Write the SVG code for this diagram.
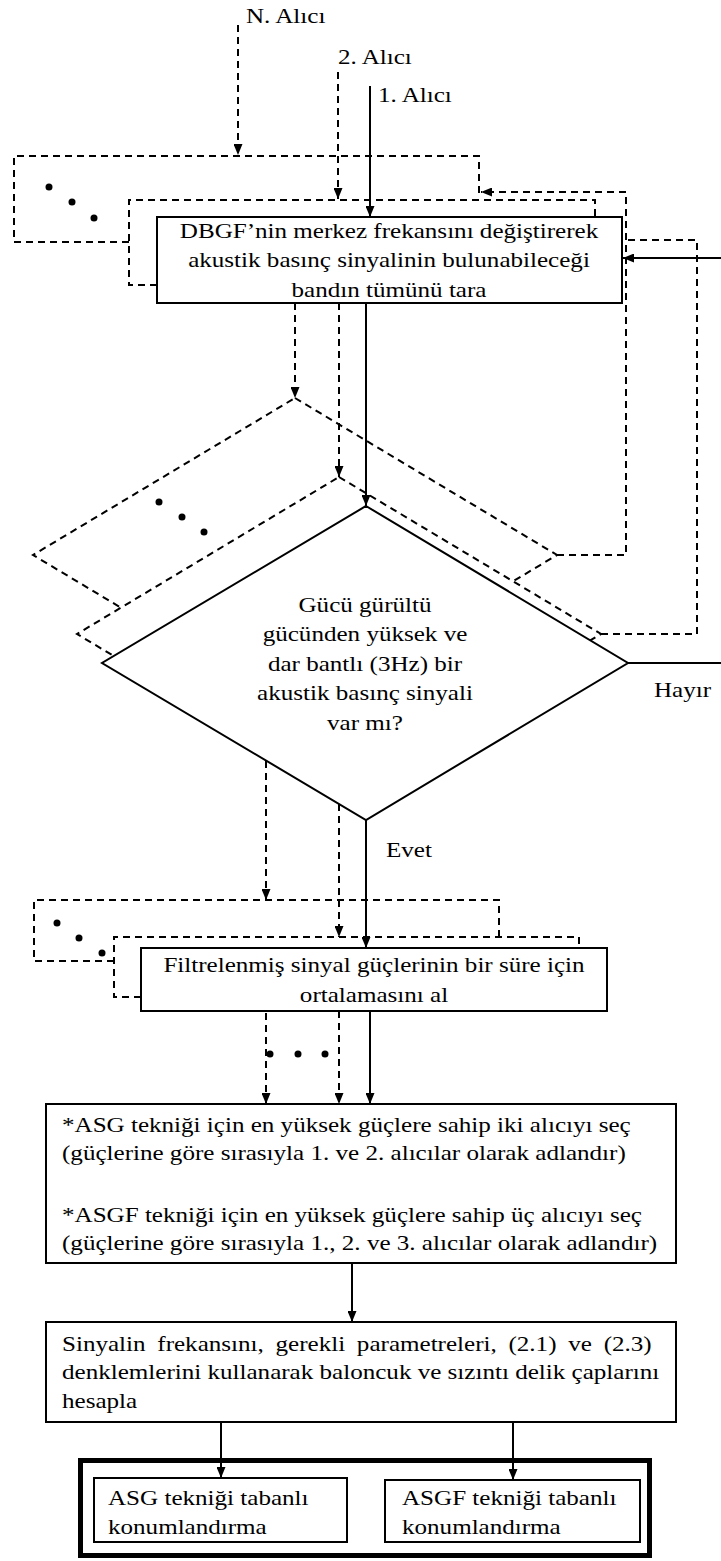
<svg xmlns="http://www.w3.org/2000/svg" width="721" height="1561" viewBox="0 0 721 1561">
<style>
.box{fill:#fff;stroke:#000;stroke-width:2}
.thick{fill:none;stroke:#000;stroke-width:5}
.sl{fill:none;stroke:#000;stroke-width:2}
.dl{fill:none;stroke:#000;stroke-width:2;stroke-dasharray:7 5}
.dd{fill:#fff;stroke:#000;stroke-width:2;stroke-dasharray:7 5}
.dot{fill:#000}
.t{font-family:"Liberation Serif","Times New Roman",serif;font-size:22px;fill:#000}
.c{text-anchor:middle}
</style>
<defs>
<marker id="ah" markerUnits="userSpaceOnUse" markerWidth="11" markerHeight="9" refX="11" refY="4.5" orient="auto">
<path d="M0,0 L11,4.5 L0,9 z" fill="#000"/>
</marker>
</defs>
<rect width="721" height="1561" fill="#fff"/>

<g id="scan-N">
<path class="dl" d="M129,242 H14 V156 H479 V196"/>
<circle class="dot" cx="49" cy="187" r="3.5"/><circle class="dot" cx="72" cy="202" r="3.5"/><circle class="dot" cx="94" cy="218" r="3.5"/>
</g>
<g id="scan-2">
<path class="dl" d="M157,285 H129 V200 H595 V217"/>
</g>
<g id="scan-1">
<rect class="box" x="157" y="217" width="465" height="86"/>
<text class="t c" transform="translate(389,238) scale(1.14,1)">DBGF’nin merkez frekansını değiştirerek</text>
<text class="t c" transform="translate(389,267) scale(1.14,1)">akustik basınç sinyalinin bulunabileceği</text>
<text class="t c" transform="translate(389,297) scale(1.14,1)">bandın tümünü tara</text>
</g>

<g id="decision-N">
<polygon class="dd" points="295,398 557,555 295,712 33,555"/>
<circle class="dot" cx="159" cy="502" r="3.5"/><circle class="dot" cx="182" cy="517" r="3.5"/><circle class="dot" cx="204" cy="532" r="3.5"/>
</g>
<g id="decision-2">
<polygon class="dd" points="339,477 601,634 339,791 77,634"/>
</g>
<g id="decision-1">
<polygon class="box" points="366,506 628,663 366,820 102,663"/>
<text class="t c" transform="translate(365,612) scale(1.14,1)">Gücü gürültü</text>
<text class="t c" transform="translate(365,641) scale(1.14,1)">gücünden yüksek ve</text>
<text class="t c" transform="translate(365,671) scale(1.14,1)">dar bantlı (3Hz) bir</text>
<text class="t c" transform="translate(365,700) scale(1.14,1)">akustik basınç sinyali</text>
<text class="t c" transform="translate(365,730) scale(1.14,1)">var mı?</text>
</g>

<g id="average-N">
<path class="dl" d="M114,961 H34 V900 H499 V937"/>
<circle class="dot" cx="57" cy="923" r="3.5"/><circle class="dot" cx="79" cy="938" r="3.5"/><circle class="dot" cx="102" cy="953" r="3.5"/>
</g>
<g id="average-2">
<path class="dl" d="M141,997 H114 V937 H579 V948"/>
</g>
<g id="average-1">
<rect class="box" x="141" y="948" width="466" height="63"/>
<text class="t c" transform="translate(374,972) scale(1.14,1)">Filtrelenmiş sinyal güçlerinin bir süre için</text>
<text class="t c" transform="translate(374,1002) scale(1.14,1)">ortalamasını al</text>
</g>

<g id="select">
<rect class="box" x="46" y="1104" width="630" height="159"/>
<text class="t" transform="translate(62,1132) scale(1.14,1)">*ASG tekniği için en yüksek güçlere sahip iki alıcıyı seç</text>
<text class="t" transform="translate(62,1160) scale(1.14,1)">(güçlerine göre sırasıyla 1. ve 2. alıcılar olarak adlandır)</text>
<text class="t" transform="translate(62,1222) scale(1.14,1)">*ASGF tekniği için en yüksek güçlere sahip üç alıcıyı seç</text>
<text class="t" transform="translate(62,1250) scale(1.14,1)">(güçlerine göre sırasıyla 1., 2. ve 3. alıcılar olarak adlandır)</text>
</g>

<g id="compute">
<rect class="box" x="46" y="1322" width="630" height="100"/>
<text class="t" transform="translate(62,1351) scale(1.14,1)" word-spacing="4.8">Sinyalin frekansını, gerekli parametreleri, (2.1) ve (2.3)</text>
<text class="t" transform="translate(62,1379) scale(1.14,1)">denklemlerini kullanarak baloncuk ve sızıntı delik çaplarını</text>
<text class="t" transform="translate(62,1408) scale(1.14,1)">hesapla</text>
</g>

<g id="localization">
<rect class="thick" x="80.5" y="1460.5" width="569" height="95"/>
</g>
<g id="asg">
<rect class="box" x="94" y="1478" width="253" height="64"/>
<text class="t" transform="translate(108,1505) scale(1.14,1)">ASG tekniği tabanlı</text>
<text class="t" transform="translate(108,1534) scale(1.14,1)">konumlandırma</text>
</g>
<g id="asgf">
<rect class="box" x="385" y="1480" width="255" height="62"/>
<text class="t" transform="translate(402,1505) scale(1.14,1)">ASGF tekniği tabanlı</text>
<text class="t" transform="translate(402,1534) scale(1.14,1)">konumlandırma</text>
</g>

<g id="connectors">
<path class="dl" d="M238,25 V155" marker-end="url(#ah)"/>
<path class="dl" d="M338,72 V199" marker-end="url(#ah)"/>
<path class="sl" d="M370,86 V217" marker-end="url(#ah)"/>
<path class="sl" d="M721,258 H623" marker-end="url(#ah)"/>
<path class="dl" d="M557,555 H626 V192 H481" marker-end="url(#ah)"/>
<path class="dl" d="M601,634 H697 V240 H623"/>
<path class="sl" d="M628,663 H721"/>
<path class="sl" d="M366,303 V506" marker-end="url(#ah)"/>
<path class="dl" d="M295,303 V398" marker-end="url(#ah)"/>
<path class="dl" d="M339,303 V477" marker-end="url(#ah)"/>
<path class="sl" d="M366,820 V948" marker-end="url(#ah)"/>
<path class="dl" d="M266,761 V900" marker-end="url(#ah)"/>
<path class="dl" d="M339,804 V937" marker-end="url(#ah)"/>
<path class="dl" d="M266,1013 V1104" marker-end="url(#ah)"/>
<path class="dl" d="M339,1011 V1104" marker-end="url(#ah)"/>
<path class="sl" d="M370,1011 V1104" marker-end="url(#ah)"/>
<circle class="dot" cx="270" cy="1054" r="3.5"/><circle class="dot" cx="298" cy="1054" r="3.5"/><circle class="dot" cx="325" cy="1054" r="3.5"/>
<path class="sl" d="M352,1263 V1322" marker-end="url(#ah)"/>
<path class="sl" d="M221,1422 V1478" marker-end="url(#ah)"/>
<path class="sl" d="M513,1422 V1480" marker-end="url(#ah)"/>
</g>

<g id="labels">
<text class="t" transform="translate(246,23) scale(1.14,1)">N. Alıcı</text>
<text class="t" transform="translate(338,64) scale(1.14,1)">2. Alıcı</text>
<text class="t" transform="translate(378,102) scale(1.14,1)">1. Alıcı</text>
<text class="t" transform="translate(654,697) scale(1.14,1)">Hayır</text>
<text class="t" transform="translate(386,857) scale(1.14,1)">Evet</text>
</g>
</svg>
